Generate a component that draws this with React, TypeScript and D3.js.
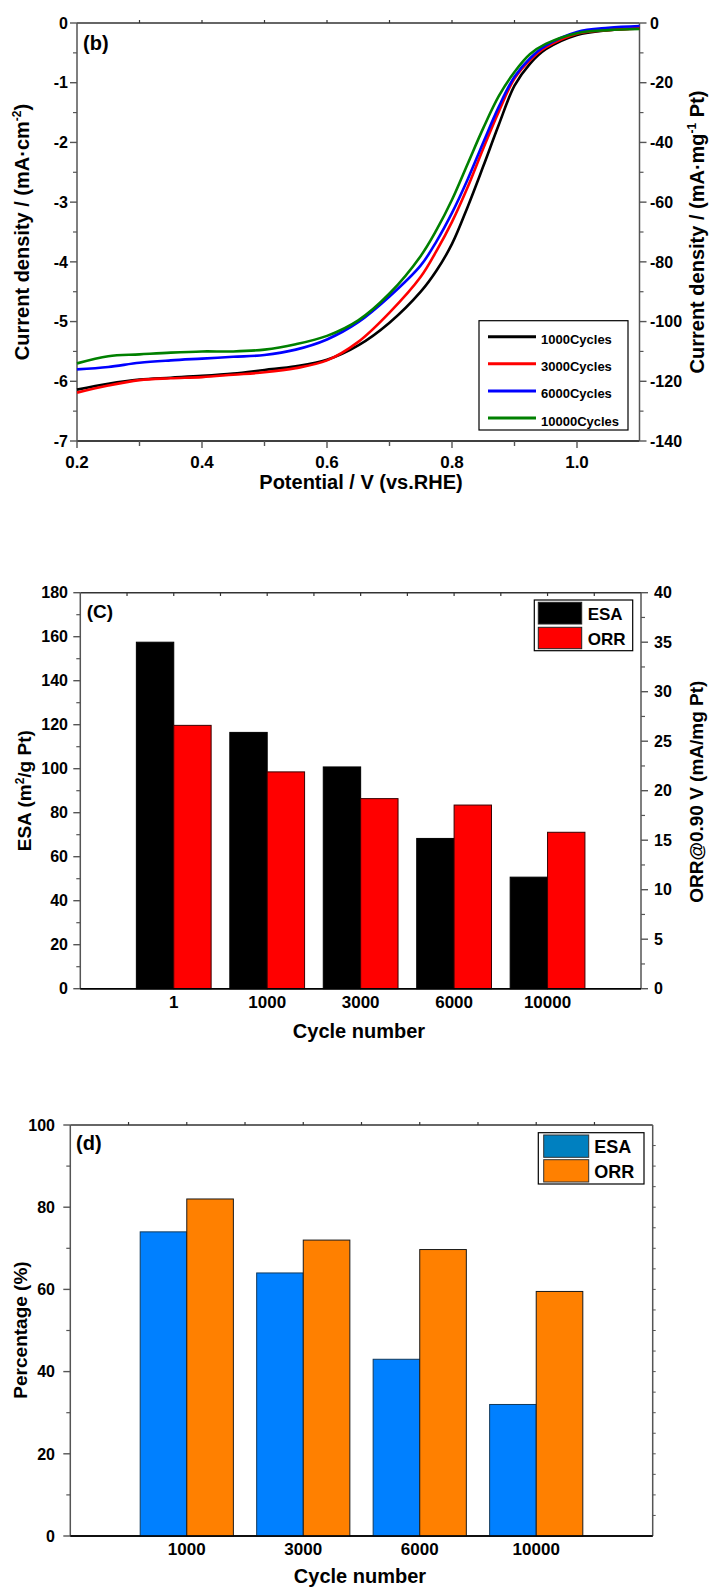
import React from 'react';
import * as d3 from 'd3';

// ---- panel (b): LSV curves ----
const potential = [0.2, 0.25, 0.3, 0.35, 0.4, 0.45, 0.5, 0.55, 0.6, 0.65, 0.7, 0.75, 0.775, 0.8, 0.825, 0.85, 0.875, 0.9, 0.925, 0.95, 1.0, 1.05, 1.1];
const j1000 = [-6.14, -6.04, -5.97, -5.94, -5.91, -5.87, -5.81, -5.75, -5.64, -5.4, -5.02, -4.5, -4.15, -3.7, -3.08, -2.4, -1.7, -1.05, -0.68, -0.44, -0.2, -0.12, -0.09];
const j3000 = [-6.19, -6.07, -5.98, -5.95, -5.93, -5.89, -5.85, -5.78, -5.65, -5.34, -4.85, -4.25, -3.82, -3.33, -2.75, -2.1, -1.48, -0.93, -0.62, -0.41, -0.18, -0.12, -0.09];
const j6000 = [-5.8, -5.76, -5.69, -5.65, -5.62, -5.59, -5.56, -5.47, -5.3, -5.01, -4.58, -4.06, -3.66, -3.18, -2.62, -2.0, -1.4, -0.9, -0.59, -0.38, -0.15, -0.08, -0.05];
const j10000 = [-5.7, -5.58, -5.55, -5.52, -5.5, -5.5, -5.47, -5.38, -5.24, -4.98, -4.53, -3.9, -3.47, -2.96, -2.36, -1.76, -1.22, -0.82, -0.52, -0.35, -0.17, -0.12, -0.1];
const lsvNames = ['1000Cycles', '3000Cycles', '6000Cycles', '10000Cycles'];
const lsvColors = ['#000000', '#ff0000', '#0000ff', '#008000'];
const lsvValues = [j1000, j3000, j6000, j10000];

// ---- panel (C): ESA / ORR ----
const cyclesC = ['1', '1000', '3000', '6000', '10000'];
const esaC = [157.5, 116.5, 100.8, 68.3, 50.7];
const orrC = [26.6, 21.9, 19.2, 18.55, 15.8];

// ---- panel (d): retention ----
const cyclesD = ['1000', '3000', '6000', '10000'];
const esaPct = [74, 64, 43, 32];
const orrPct = [82, 72, 69.7, 59.5];

const FONT = '"Liberation Sans", Arial, sans-serif';
const AX = '#555';

const App: React.FC = () => {
  // scales (b)
  const xB = d3.scaleLinear().domain([0.2, 1.1]).range([77, 639.5]);
  const yB = d3.scaleLinear().domain([-7, 0]).range([441, 23]);
  const yB2 = d3.scaleLinear().domain([-140, 0]).range([441, 23]);
  // scales (C)
  const xC = d3.scaleLinear().domain([0, 6]).range([80.3, 641]);
  const yC = d3.scaleLinear().domain([0, 180]).range([988.7, 592.7]);
  const yC2 = d3.scaleLinear().domain([0, 40]).range([988.7, 592.7]);
  // scales (d)
  const xD = d3.scaleLinear().domain([0, 5]).range([70.3, 652.7]);
  const yD = d3.scaleLinear().domain([0, 100]).range([1536, 1125]);

  const line = d3
    .line<number>()
    .x((_, i) => xB(potential[i]))
    .y(d => yB(d))
    .curve(d3.curveCatmullRom.alpha(0.5));

  const range = (a: number, b: number, s: number) => d3.range(a, b + s / 2, s);

  const frame = (x0: number, x1: number, y0: number, y1: number) => (
    <g>
      <line x1={x0} y1={y0} x2={x1} y2={y0} stroke="#333" strokeWidth={1.5} />
      <line x1={x0} y1={y1} x2={x1} y2={y1} stroke="#000" strokeWidth={1.5} />
      <line x1={x0} y1={y0} x2={x0} y2={y1} stroke={AX} strokeWidth={1.5} />
      <line x1={x1} y1={y0} x2={x1} y2={y1} stroke={AX} strokeWidth={1.5} />
    </g>
  );

  const yTicks = (
    scale: d3.ScaleLinear<number, number>,
    x: number,
    side: number,
    major: number[],
    minor: number[],
    fmt: ((v: number) => string) | null,
    labelX: number,
    fs: number
  ) => (
    <g>
      {minor.map(v => (
        <line key={`mn${v}`} x1={x} x2={x + side * 4} y1={scale(v)} y2={scale(v)} stroke={AX} strokeWidth={1.2} />
      ))}
      {major.map(v => (
        <g key={`mj${v}`}>
          <line x1={x} x2={x + side * 7} y1={scale(v)} y2={scale(v)} stroke={AX} strokeWidth={1.4} />
          {fmt && (
            <text x={labelX} y={scale(v)} dy="0.36em" textAnchor={side < 0 ? 'end' : 'start'} fontSize={fs}>
              {fmt(v)}
            </text>
          )}
        </g>
      ))}
    </g>
  );

  return (
    <div style={{ position: 'absolute', left: 0, top: 0 }}>
      <svg width={710} height={1587} viewBox="0 0 710 1587" style={{ display: 'block' }} fontFamily={FONT} fontWeight="bold">
        <rect width={710} height={1587} fill="#fff" />

        {/* ================= (b) ================= */}
        {frame(77, 639.5, 23, 441)}
        {range(0.3, 1.0, 0.1).map(v => (
          <line key={`bt${v}`} x1={xB(v)} x2={xB(v)} y1={23} y2={20} stroke="#333" strokeWidth={1.2} />
        ))}
        {range(0.2, 1.0, 0.1).map((v, i) => (
          <g key={`bx${i}`}>
            <line x1={xB(v)} x2={xB(v)} y1={441} y2={i % 2 === 0 ? 448 : 446} stroke={AX} strokeWidth={1.4} />
            {i % 2 === 0 && (
              <text x={xB(v)} y={468} textAnchor="middle" fontSize={17}>
                {d3.format('.1f')(v)}
              </text>
            )}
          </g>
        ))}
        {yTicks(yB, 77, -1, range(-7, 0, 1), range(-6.5, -0.5, 1), v => `${v}`, 68, 16)}
        {yTicks(yB2, 639.5, 1, range(-140, 0, 20), range(-130, -10, 20), v => `${v}`, 650, 16)}

        {lsvValues.map((vals, k) => (
          <path key={lsvNames[k]} d={line(vals) || ''} fill="none" stroke={lsvColors[k]} strokeWidth={2.6} />
        ))}

        <text x={83} y={50} fontSize={20}>(b)</text>

        <g>
          <rect x={479} y={320.7} width={149} height={109.3} fill="#fff" stroke="#000" strokeWidth={1.2} />
          {lsvNames.map((n, k) => (
            <g key={`lg${n}`}>
              <line x1={488} x2={536} y1={336.7 + k * 27.1} y2={336.7 + k * 27.1} stroke={lsvColors[k]} strokeWidth={3} />
              <text x={541} y={344 + k * 27.2} fontSize={13}>{n}</text>
            </g>
          ))}
        </g>

        <text x={361} y={489} textAnchor="middle" fontSize={20}>Potential / V (vs.RHE)</text>
        <text transform="translate(29,232) rotate(-90)" textAnchor="middle" fontSize={20}>
          Current density / (mA·cm
          <tspan dy={-8} fontSize={12}>-2</tspan>
          <tspan dy={8}>)</tspan>
        </text>
        <text transform="translate(704,232) rotate(-90)" textAnchor="middle" fontSize={20}>
          Current density / (mA·mg
          <tspan dy={-8} fontSize={12}>-1</tspan>
          <tspan dy={8}> Pt)</tspan>
        </text>

        {/* ================= (C) ================= */}
        {frame(80.3, 641, 592.7, 988.7)}
        {range(0.5, 5.5, 0.5).map(v => (
          <line key={`ct${v}`} x1={xC(v)} x2={xC(v)} y1={592.7} y2={596} stroke="#333" strokeWidth={1.2} />
        ))}
        {yTicks(yC, 80.3, -1, range(0, 180, 20), range(10, 170, 20), v => `${v}`, 68, 16)}
        {yTicks(yC2, 641, 1, range(0, 40, 5), range(2.5, 37.5, 5), v => `${v}`, 654, 16)}

        {cyclesC.map((c, i) => (
          <g key={`cb${c}`}>
            <rect
              x={xC(i + 0.6)}
              y={yC(esaC[i])}
              width={xC(i + 1) - xC(i + 0.6)}
              height={yC(0) - yC(esaC[i])}
              fill="#000"
              stroke="#000"
              strokeWidth={1}
            />
            <rect
              x={xC(i + 1)}
              y={yC2(orrC[i])}
              width={xC(i + 1.4) - xC(i + 1)}
              height={yC2(0) - yC2(orrC[i])}
              fill="#ff0000"
              stroke="#3a0000"
              strokeWidth={1}
            />
            <text x={xC(i + 1)} y={1007.5} textAnchor="middle" fontSize={17}>{c}</text>
          </g>
        ))}
        <line x1={80.3} x2={641} y1={988.7} y2={988.7} stroke="#000" strokeWidth={1.5} />

        <text x={86.7} y={617.7} fontSize={19}>(C)</text>

        <g>
          <rect x={534.3} y={600} width={98.4} height={50.7} fill="#fff" stroke="#000" strokeWidth={1.2} />
          <rect x={538.3} y={602.3} width={43.4} height={21.7} fill="#000" stroke="#222" />
          <rect x={538.3} y={627.3} width={43.4} height={21.4} fill="#ff0000" stroke="#222" />
          <text x={587.7} y={620} fontSize={17}>ESA</text>
          <text x={587.7} y={645} fontSize={17}>ORR</text>
        </g>

        <text x={359} y={1037.5} textAnchor="middle" fontSize={20}>Cycle number</text>
        <text transform="translate(31,790.7) rotate(-90)" textAnchor="middle" fontSize={19}>
          ESA (m
          <tspan dy={-7} fontSize={12}>2</tspan>
          <tspan dy={7}>/g Pt)</tspan>
        </text>
        <text transform="translate(703,791.7) rotate(-90)" textAnchor="middle" fontSize={19}>
          ORR@0.90 V (mA/mg Pt)
        </text>

        {/* ================= (d) ================= */}
        {frame(70.3, 652.7, 1125, 1536)}
        {range(0.5, 4.5, 0.5).map(v => (
          <line key={`dt${v}`} x1={xD(v)} x2={xD(v)} y1={1125} y2={1122} stroke="#333" strokeWidth={1.2} />
        ))}
        {yTicks(yD, 70.3, -1, range(0, 100, 20), range(10, 90, 20), v => `${v}`, 55, 16)}
        {range(5, 95, 5).map(v => (
          <line key={`dr${v}`} x1={652.7} x2={655.7} y1={yD(v)} y2={yD(v)} stroke={AX} strokeWidth={1} />
        ))}

        {cyclesD.map((c, i) => (
          <g key={`db${c}`}>
            <rect
              x={xD(i + 0.6)}
              y={yD(esaPct[i])}
              width={xD(i + 1) - xD(i + 0.6)}
              height={yD(0) - yD(esaPct[i])}
              fill="#0080ff"
              stroke="#123a5c"
              strokeWidth={1}
            />
            <rect
              x={xD(i + 1)}
              y={yD(orrPct[i])}
              width={xD(i + 1.4) - xD(i + 1)}
              height={yD(0) - yD(orrPct[i])}
              fill="#ff8000"
              stroke="#1a1a1a"
              strokeWidth={1}
            />
            <text x={xD(i + 1)} y={1555} textAnchor="middle" fontSize={17}>{c}</text>
          </g>
        ))}
        <line x1={70.3} x2={652.7} y1={1536} y2={1536} stroke="#000" strokeWidth={1.5} />

        <text x={76} y={1150} fontSize={20}>(d)</text>

        <g>
          <rect x={538.3} y={1132.7} width={105.7} height={51.3} fill="#fff" stroke="#000" strokeWidth={1.2} />
          <rect x={543.7} y={1135} width={45} height={22.3} fill="#0080c0" stroke="#333" />
          <rect x={543.7} y={1159.7} width={45} height={22.3} fill="#ff8000" stroke="#333" />
          <text x={594.3} y={1153.3} fontSize={18}>ESA</text>
          <text x={594.3} y={1178.3} fontSize={18}>ORR</text>
        </g>

        <text x={360} y={1583} textAnchor="middle" fontSize={20}>Cycle number</text>
        <text transform="translate(27,1330) rotate(-90)" textAnchor="middle" fontSize={19}>Percentage (%)</text>
      </svg>
    </div>
  );
};

export default App;
